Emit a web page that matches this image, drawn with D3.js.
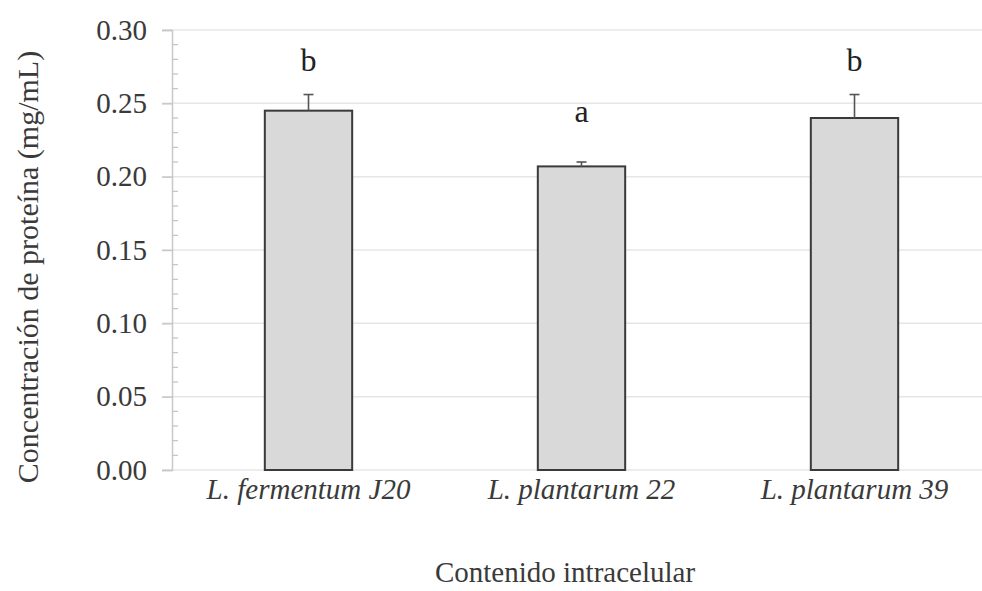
<!DOCTYPE html>
<html><head><meta charset="utf-8">
<script src="https://cdn.jsdelivr.net/npm/d3@7"></script>
<style>body{margin:0;background:#fff}svg{display:block}</style>
</head><body>
<script>
const categories = ["L. fermentum J20", "L. plantarum 22", "L. plantarum 39"];
const values = [0.245, 0.207, 0.240];
const errors = [0.011, 0.003, 0.016];
const letters = ["b", "a", "b"];
const letterLevels = [0.272, 0.237, 0.272];
const yTicks = [0.00, 0.05, 0.10, 0.15, 0.20, 0.25, 0.30];

const W = 982, H = 591;
const m = {left: 172, right: -9, top: 30, bottom: 121};
const svg = d3.select("body").append("svg").attr("width", W).attr("height", H);
const font = "'Liberation Serif','Times New Roman',serif";
const txt = "#3a3a3a";

const x = d3.scaleBand().domain(categories).range([m.left, W - m.right]).paddingInner(0.68).paddingOuter(0.34);
const y = d3.scaleLinear().domain([0, 0.30]).range([H - m.bottom, m.top]);

// gridlines
svg.append("g").selectAll("line").data(yTicks).join("line")
  .attr("x1", m.left - 10).attr("x2", W - m.right)
  .attr("y1", d => y(d)).attr("y2", d => y(d))
  .attr("stroke", "#e6e6e6").attr("stroke-width", 1.5);

// minor ticks
const minor = d3.range(0, 31).map(i => i / 100).filter(v => Math.round(v * 100) % 5 !== 0);
svg.append("g").selectAll("line").data(minor).join("line")
  .attr("x1", m.left).attr("x2", m.left + 6)
  .attr("y1", d => y(d)).attr("y2", d => y(d))
  .attr("stroke", "#c8c8c8").attr("stroke-width", 1.3);

// y axis
const yAxis = d3.axisLeft(y).tickValues(yTicks).tickFormat(d3.format(".2f")).tickSize(10).tickPadding(15);
const gy = svg.append("g").attr("transform", `translate(${m.left},0)`).call(yAxis);
gy.select(".domain").attr("stroke", "#c8c8c8").attr("stroke-width", 1.5);
gy.selectAll(".tick line").attr("stroke", "#c8c8c8").attr("stroke-width", 1.5);
gy.selectAll(".tick text").attr("font-family", font).attr("font-size", 29).attr("fill", txt);

// bars
svg.append("g").selectAll("rect").data(categories).join("rect")
  .attr("x", d => x(d)).attr("width", x.bandwidth())
  .attr("y", (d, i) => y(values[i])).attr("height", (d, i) => y(0) - y(values[i]))
  .attr("fill", "#d9d9d9").attr("stroke", "#3a3a3a").attr("stroke-width", 2);

// error bars
const eg = svg.append("g").attr("stroke", "#555").attr("stroke-width", 1.6);
categories.forEach((c, i) => {
  const cx = x(c) + x.bandwidth() / 2;
  eg.append("line").attr("x1", cx).attr("x2", cx).attr("y1", y(values[i])).attr("y2", y(values[i] + errors[i]));
  eg.append("line").attr("x1", cx - 5).attr("x2", cx + 5).attr("y1", y(values[i] + errors[i])).attr("y2", y(values[i] + errors[i]));
});

// letters
svg.append("g").selectAll("text").data(categories).join("text")
  .attr("x", d => x(d) + x.bandwidth() / 2)
  .attr("y", (d, i) => y(letterLevels[i]))
  .attr("text-anchor", "middle").attr("font-family", font).attr("font-size", 32)
  .attr("fill", "#222").text((d, i) => letters[i]);

// x labels
svg.append("g").selectAll("text").data(categories).join("text")
  .attr("x", d => x(d) + x.bandwidth() / 2).attr("y", 499)
  .attr("text-anchor", "middle").attr("font-family", font).attr("font-size", 29)
  .attr("font-style", "italic").attr("fill", txt).text(d => d);

// axis titles
svg.append("text").attr("x", 565).attr("y", 582).attr("text-anchor", "middle")
  .attr("font-family", font).attr("font-size", 29).attr("fill", txt).text("Contenido intracelular");
svg.append("text").attr("transform", "translate(38,267) rotate(-90)").attr("text-anchor", "middle")
  .attr("font-family", font).attr("font-size", 30).attr("fill", txt).text("Concentración de proteína (mg/mL)");
</script>
</body></html>
